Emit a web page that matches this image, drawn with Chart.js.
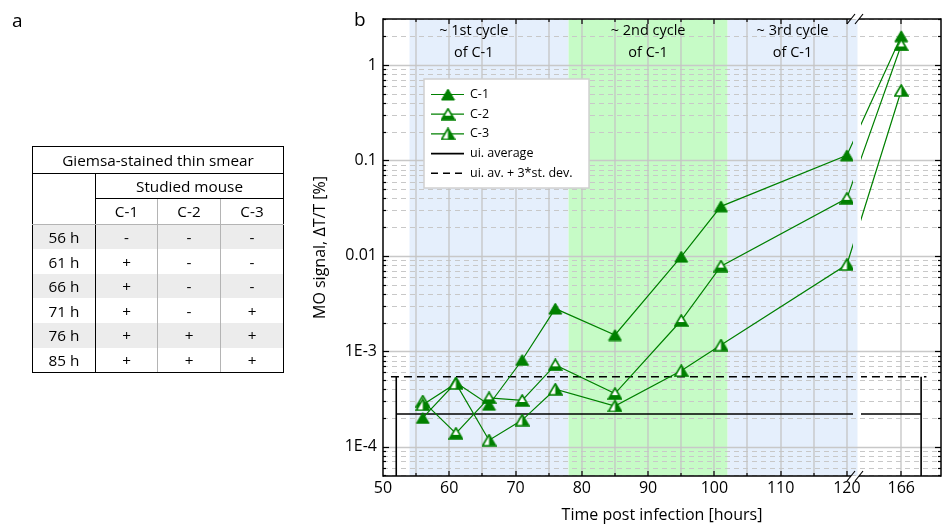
<!DOCTYPE html>
<html>
<head>
<meta charset="utf-8">
<script src="https://cdn.jsdelivr.net/npm/chart.js@4/dist/chart.umd.min.js"></script>
<style>
html,body{margin:0;padding:0;background:#fff;}
#wrap{position:relative;width:944px;height:525px;overflow:hidden;font-family:"Open Sans",sans-serif;color:#000;}
#chart{position:absolute;left:0;top:0;}
.panel{position:absolute;font-size:19px;line-height:19px;}
#tbl{position:absolute;left:32px;top:146px;border-collapse:collapse;table-layout:fixed;width:251px;font-size:15.3px;}
#tbl td{padding:0;text-align:center;height:24.6px;line-height:22px;white-space:nowrap;}
#tbl tr.grey td{background:#ececec;}
</style>
</head>
<body>
<div id="wrap">
  <canvas id="chart" width="944" height="525"></canvas>
  <div class="panel" style="left:12px;top:11px;">a</div>
  <div class="panel" style="left:354px;top:10px;">b</div>
  <table id="tbl"></table>
</div>
<script>
// ---------------- data ----------------
const TIMES = [56, 61, 66, 71, 76, 85, 95, 101, 120, 166];
const C1 = [2.0e-4, 4.7e-4, 2.75e-4, 8.1e-4, 2.8e-3, 1.48e-3, 9.8e-3, 3.3e-2, 0.113, 2.0];
const C2 = [3.0e-4, 1.38e-4, 3.25e-4, 3.05e-4, 7.2e-4, 3.6e-4, 2.1e-3, 7.8e-3, 4.0e-2, 1.62];
const C3 = [2.75e-4, 4.6e-4, 1.17e-4, 1.9e-4, 4.0e-4, 2.67e-4, 6.25e-4, 1.16e-3, 8.1e-3, 0.54];
const SERIES_LABELS = ['C-1', 'C-2', 'C-3'];
const UI_AVERAGE = 2.2e-4;
const UI_AV_3SD = 5.4e-4;
const UI_LABELS = ['ui. average', 'ui. av. + 3*st. dev.'];
const UI_FROM = 52;
const UI_TO = 169;
const X_TICKS = [50, 60, 70, 80, 90, 100, 110, 120, 166];
const Y_TICK_VALUES = [1e-4, 1e-3, 1e-2, 1e-1, 1];
const Y_TICK_LABELS = ['1E-4', '1E-3', '0.01', '0.1', '1'];
const CYCLE_FROM = [54, 78, 102];
const CYCLE_TO = [78, 102, 121.6];
const CYCLE_LABELS = [['~ 1st cycle', 'of C-1'], ['~ 2nd cycle', 'of C-1'], ['~ 3rd cycle', 'of C-1']];
const TABLE_TITLE = 'Giemsa-stained thin smear';
const TABLE_SUBTITLE = 'Studied mouse';
const TABLE_TIMES = ['56 h', '61 h', '66 h', '71 h', '76 h', '85 h'];
const TABLE_C1 = ['-', '+', '+', '+', '+', '+'];
const TABLE_C2 = ['-', '-', '-', '-', '+', '+'];
const TABLE_C3 = ['-', '-', '-', '+', '+', '+'];
const X_TITLE = 'Time post infection [hours]';
const Y_TITLE = 'MO signal, \u0394T/T [%]';

// ---------------- table (panel a) ----------------
(function buildTable(){
  const t = document.getElementById('tbl');
  const B = '1px solid #000', G = '1px solid #b4b4b4';
  let h = '<colgroup><col style="width:63px"><col style="width:62px"><col style="width:63px"><col style="width:63px"></colgroup>';
  h += `<tr><td colspan="4" style="border:${B};height:25.5px;">${TABLE_TITLE}</td></tr>`;
  h += `<tr><td rowspan="2" style="border-left:${B};border-right:${B};border-bottom:${G};"></td><td colspan="3" style="border-right:${B};border-bottom:${B};">${TABLE_SUBTITLE}</td></tr>`;
  h += `<tr>${SERIES_LABELS.map((s,i)=>`<td style="border-bottom:${G};${i<2?'border-right:'+G+';':'border-right:'+B+';'}">${s}</td>`).join('')}</tr>`;
  TABLE_TIMES.forEach((tm, r) => {
    const last = r === TABLE_TIMES.length - 1;
    const bb = last ? `border-bottom:${B};` : '';
    h += `<tr class="${r % 2 === 0 ? 'grey' : ''}"><td style="border-left:${B};border-right:${B};${bb}">${tm}</td>` +
      `<td style="border-right:${G};${bb}">${TABLE_C1[r]}</td><td style="border-right:${G};${bb}">${TABLE_C2[r]}</td><td style="border-right:${B};${bb}">${TABLE_C3[r]}</td></tr>`;
  });
  t.innerHTML = h;
})();

// ---------------- broken x scale ----------------
const X_MIN = 50, X_VMAX = 134.2, BREAK_SPLIT = 140, BREAK_SHIFT = 37.8;
const toVirtual = v => (v > BREAK_SPLIT ? v - BREAK_SHIFT : v);
const fromVirtual = v => (v > BREAK_SPLIT - BREAK_SHIFT + 2 ? v + BREAK_SHIFT : v);
class BrokenLinearScale extends Chart.LinearScale {
  determineDataLimits() { this.min = X_MIN; this.max = X_VMAX; }
  getPixelForValue(value) { return super.getPixelForValue(toVirtual(value)); }
  getValueForPixel(pixel) { return fromVirtual(super.getValueForPixel(pixel)); }
  getPadding() { return {left: 0, top: 0, right: 0, bottom: 0}; }
}
BrokenLinearScale.id = 'brokenLinear';
BrokenLinearScale.defaults = Chart.LinearScale.defaults;
Chart.register(BrokenLinearScale);

// ---------------- markers ----------------
const GREEN = '#008000';
function makeMarker(kind){
  const c = document.createElement('canvas'); c.width = 15; c.height = 13;
  const g = c.getContext('2d');
  const path = () => { g.beginPath(); g.moveTo(7.5, 1); g.lineTo(14, 12); g.lineTo(1, 12); g.closePath(); };
  if (kind === 'filled') { path(); g.fillStyle = GREEN; g.fill(); g.strokeStyle = GREEN; g.lineWidth = 1; g.stroke(); return c; }
  path(); g.fillStyle = '#fff'; g.fill();
  g.save(); path(); g.clip(); g.fillStyle = GREEN;
  if (kind === 'bottom') g.fillRect(0, 8, 15, 5); else g.fillRect(7.5, 0, 8, 13);
  g.restore();
  path(); g.strokeStyle = GREEN; g.lineWidth = 1.6; g.stroke();
  return c;
}
const MARKERS = [makeMarker('filled'), makeMarker('bottom'), makeMarker('right')];

const FONT = '"Open Sans", sans-serif';
const series = [C1, C2, C3];
const datasets = series.map((vals, i) => ({
  label: SERIES_LABELS[i],
  data: TIMES.map((t, k) => ({x: t, y: vals[k]})),
  borderColor: GREEN, borderWidth: 1.2, backgroundColor: GREEN,
  pointStyle: MARKERS[i], pointRadius: 7, pointHoverRadius: 7,
  order: 3 - i, kind: 'series', markerIndex: i
}));
datasets.push({
  label: UI_LABELS[0], data: [{x: UI_FROM, y: UI_AVERAGE}, {x: UI_TO, y: UI_AVERAGE}],
  borderColor: '#000', borderWidth: 1.6, pointRadius: 0, order: 10, kind: 'solid'
});
datasets.push({
  label: UI_LABELS[1], data: [{x: UI_FROM - 0.8, y: UI_AV_3SD}, {x: UI_TO + 0.8, y: UI_AV_3SD}],
  borderColor: '#000', borderWidth: 1.6, borderDash: [8, 5], pointRadius: 0, order: 10, kind: 'dashed'
});
const Y_MIN = 4.93e-5, Y_MAX = 3.03;
[UI_FROM, UI_TO].forEach(x => datasets.push({
  label: '', data: [{x: x, y: Y_MIN}, {x: x, y: UI_AV_3SD}],
  borderColor: '#000', borderWidth: 1.6, pointRadius: 0, order: 10, kind: 'bound'
}));

// ---------------- decoration plugin ----------------
const GAP1 = 853, GAP2 = 861;
const decor = {
  id: 'decor',
  beforeDatasetsDraw(chart) {
    const {ctx, chartArea: a, scales: {x, y}} = chart;
    ctx.save();
    const bandColors = ['#e5effc', '#c6fbc6', '#e5effc'];
    CYCLE_FROM.forEach((f, i) => {
      ctx.fillStyle = bandColors[i];
      ctx.fillRect(x.getPixelForValue(f), a.top, x.getPixelForValue(CYCLE_TO[i]) - x.getPixelForValue(f), a.bottom - a.top);
    });
    for (let e = -5; e <= 0; e++) for (let m = 1; m <= 9; m++) {
      const v = m * Math.pow(10, e);
      if (v <= Y_MIN || v >= Y_MAX) continue;
      const py = Math.round(y.getPixelForValue(v)) + 0.5;
      ctx.beginPath(); ctx.strokeStyle = '#c8c8c8';
      if (m === 1) { ctx.setLineDash([]); ctx.lineWidth = 1.5; }
      else { ctx.setLineDash([5, 4]); ctx.lineWidth = 1; }
      ctx.moveTo(a.left, py); ctx.lineTo(a.right, py); ctx.stroke();
    }
    ctx.setLineDash([]);
    const vx = [];
    for (let v = 55; v <= 120; v += 5) vx.push(v);
    vx.push(166);
    vx.forEach(v => {
      const px = Math.round(x.getPixelForValue(v));
      ctx.beginPath(); ctx.strokeStyle = '#c4c4c4'; ctx.lineWidth = 1.3;
      ctx.moveTo(px, a.top); ctx.lineTo(px, a.bottom); ctx.stroke();
    });
    const labelX = [63.7, 90, 111.8];
    ctx.fillStyle = '#000'; ctx.font = '14.5px ' + FONT; ctx.textAlign = 'center'; ctx.textBaseline = 'middle';
    CYCLE_LABELS.forEach((ls, i) => {
      const px = x.getPixelForValue(labelX[i]);
      ctx.fillText(ls[0], px, a.top + 12);
      ctx.fillText(ls[1], px, a.top + 34);
    });
    ctx.restore();
    ctx.save();
    ctx.beginPath();
    ctx.rect(a.left, a.top, GAP1 - a.left, a.bottom - a.top);
    ctx.rect(GAP2, a.top, a.right - GAP2, a.bottom - a.top);
    ctx.clip();
  },
  afterDatasetsDraw(chart) {
    const {ctx, chartArea: a, scales: {x, y}} = chart;
    ctx.restore();
    ctx.save();
    ctx.strokeStyle = '#000'; ctx.lineWidth = 1.5; ctx.setLineDash([]);
    const L = (x1, y1, x2, y2) => { ctx.beginPath(); ctx.moveTo(x1, y1); ctx.lineTo(x2, y2); ctx.stroke(); };
    L(a.left, a.top - 0.75, a.left, a.bottom + 0.75);
    L(a.right, a.top - 0.75, a.right, a.bottom + 0.75);
    L(a.left, a.top, GAP1 - 2, a.top); L(GAP2 - 2, a.top, a.right, a.top);
    L(a.left, a.bottom, GAP1 - 2, a.bottom); L(GAP2 - 2, a.bottom, a.right, a.bottom);
    ctx.lineWidth = 1.2;
    [a.top, a.bottom].forEach(yy => {
      L(GAP1 - 6, yy + 5, GAP1 + 2, yy - 5);
      L(GAP2 - 6, yy + 5, GAP2 + 2, yy - 5);
    });
    ctx.lineWidth = 1.2;
    for (let e = -5; e <= 0; e++) for (let m = 1; m <= 9; m++) {
      const v = m * Math.pow(10, e);
      if (v <= Y_MIN || v >= Y_MAX) continue;
      const py = Math.round(y.getPixelForValue(v)) + 0.5;
      const len = m === 1 ? 6 : 3;
      L(a.left, py, a.left + len, py); L(a.right - len, py, a.right, py);
    }
    const vx = [];
    for (let v = 55; v <= 120; v += 5) vx.push(v);
    vx.push(166);
    vx.forEach(v => {
      const px = Math.round(x.getPixelForValue(v));
      const len = (v % 10 === 0 || v === 166) ? 5 : 3;
      L(px, a.bottom, px, a.bottom - len); L(px, a.top, px, a.top + len);
    });
    const bx = a.left + 41, by = a.top + 60, bw = 165, bh = 109;
    ctx.fillStyle = '#fff'; ctx.fillRect(bx, by, bw, bh);
    ctx.strokeStyle = '#d0d0d0'; ctx.lineWidth = 1.5; ctx.strokeRect(bx, by, bw, bh);
    ctx.font = '12.5px ' + FONT; ctx.textAlign = 'left'; ctx.textBaseline = 'middle'; ctx.fillStyle = '#000';
    const items = chart.data.datasets.filter(d => d.kind !== 'bound');
    items.forEach((d, i) => {
      const ry = by + 15.5 + i * 19.7;
      ctx.beginPath();
      ctx.strokeStyle = d.borderColor; ctx.lineWidth = d.kind === 'series' ? 1.2 : 1.6;
      ctx.setLineDash(d.kind === 'dashed' ? [7, 5] : []);
      ctx.moveTo(bx + 7, ry); ctx.lineTo(bx + 40, ry); ctx.stroke();
      ctx.setLineDash([]);
      if (d.kind === 'series') {
        const mk = MARKERS[d.markerIndex];
        ctx.drawImage(mk, bx + 24 - mk.width / 2, ry - mk.height / 2);
      }
      ctx.fillText(d.label, bx + 46, ry);
    });
    ctx.restore();
  }
};

new Chart(document.getElementById('chart'), {
  type: 'line',
  data: {datasets},
  plugins: [decor],
  options: {
    responsive: false, animation: false, events: [],
    layout: {autoPadding: false, padding: {left: 300, top: 19, right: 3, bottom: 0}},
    plugins: {legend: {display: false}, tooltip: {enabled: false}},
    scales: {
      x: {
        type: 'brokenLinear', bounds: 'data',
        afterBuildTicks: s => { s.ticks = X_TICKS.map(v => ({value: v})); },
        afterFit: s => { s.height = 49; },
        grid: {display: false, drawTicks: false}, border: {display: false},
        ticks: {autoSkip: false, maxRotation: 0, padding: 3, color: '#000', font: {family: FONT, size: 16},
                callback: v => String(v)},
        title: {display: true, text: X_TITLE, color: '#000', font: {family: FONT, size: 16}, padding: {top: 0, bottom: 0}}
      },
      y: {
        type: 'logarithmic', min: Y_MIN, max: Y_MAX, bounds: 'data',
        afterBuildTicks: s => { s.ticks = Y_TICK_VALUES.map(v => ({value: v, major: true})); },
        afterFit: s => { s.width = 83; },
        grid: {display: false, drawTicks: false}, border: {display: false},
        ticks: {autoSkip: false, padding: 6, color: '#000', font: {family: FONT, size: 16},
                callback: (v, i) => Y_TICK_LABELS[i]},
        title: {display: true, text: Y_TITLE, color: '#000', font: {family: FONT, size: 16}, padding: {top: 11, bottom: 0}}
      }
    }
  }
});
</script>
</body>
</html>
